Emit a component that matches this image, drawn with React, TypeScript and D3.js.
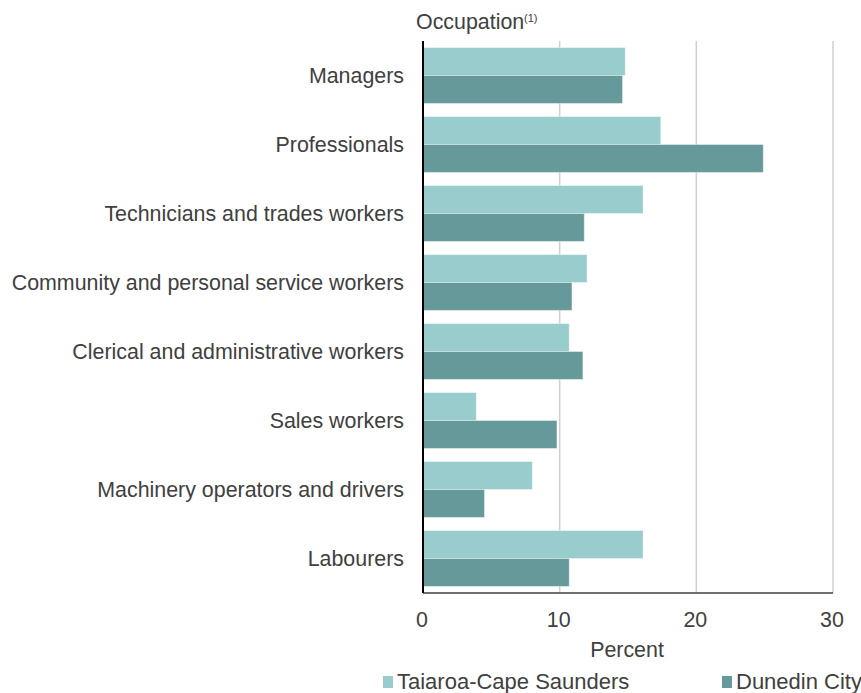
import React from "react";
import * as d3 from "d3";

const categories = [
  "Managers",
  "Professionals",
  "Technicians and trades workers",
  "Community and personal service workers",
  "Clerical and administrative workers",
  "Sales workers",
  "Machinery operators and drivers",
  "Labourers",
];
const seriesNames = ["Taiaroa-Cape Saunders", "Dunedin City"];
const taiaroa = [14.8, 17.4, 16.1, 12.0, 10.7, 3.9, 8.0, 16.1];
const dunedin = [14.6, 24.9, 11.8, 10.9, 11.7, 9.8, 4.5, 10.7];
const xTicks = [0, 10, 20, 30];
const colors = ["#99cccc", "#669999"];

const W = 861;
const H = 693;
const left = 423;
const right = 833;
const top = 41;
const bottom = 593;
const FONT = "'Liberation Sans', Arial, sans-serif";
const TXT = "#404040";

export default function App() {
  const x = d3.scaleLinear().domain([0, 30]).range([left, right]);
  const y = d3
    .scaleBand<string>()
    .domain(categories)
    .range([top, bottom])
    .paddingInner(0.19)
    .paddingOuter(0.095);
  const sub = d3
    .scaleBand<number>()
    .domain([0, 1])
    .range([0, y.bandwidth()]);
  const series = [taiaroa, dunedin];

  return (
    <svg
      width={W}
      height={H}
      style={{ position: "absolute", left: 0, top: 0, background: "#fff" }}
      fontFamily={FONT}
    >
      {xTicks.slice(1).map((t) => (
        <line key={t} x1={x(t)} x2={x(t)} y1={top} y2={bottom} stroke="#d0d0d0" strokeWidth={1.5} />
      ))}
      {categories.map((c, i) =>
        series.map((s, si) => (
          <rect
            key={c + si}
            x={x(0)}
            y={(y(c) as number) + (sub(si) as number)}
            width={x(s[i]) - x(0)}
            height={sub.bandwidth()}
            fill={colors[si]}
            stroke="#ffffff"
            strokeOpacity={0.4}
            strokeWidth={1}
          />
        ))
      )}
      <line x1={left} x2={right} y1={bottom} y2={bottom} stroke="#404040" strokeWidth={1.5} />
      <line x1={left} x2={left} y1={top} y2={bottom} stroke="#000" strokeWidth={2} />
      {categories.map((c) => (
        <text
          key={c}
          x={404}
          y={(y(c) as number) + y.bandwidth() / 2 + 7.5}
          textAnchor="end"
          fontSize={21.4}
          fill={TXT}
        >
          {c}
        </text>
      ))}
      {xTicks.map((t) => (
        <text key={t} x={x(t) - 1} y={627} textAnchor="middle" fontSize={21.4} fill={TXT}>
          {t}
        </text>
      ))}
      <text x={627} y={657} textAnchor="middle" fontSize={21.4} fill={TXT}>
        Percent
      </text>
      <text x={416} y={29} fontSize={21.4} fill={TXT}>
        Occupation
      </text>
      <text x={524} y={22} fontSize={11} fill={TXT}>
        (1)
      </text>
      {seriesNames.map((n, i) => {
        const lx = i === 0 ? 383 : 722;
        return (
          <g key={n}>
            <rect x={lx} y={676} width={10} height={12} fill={colors[i]} />
            <text x={lx + 14} y={689} fontSize={22} fill={TXT}>
              {n}
            </text>
          </g>
        );
      })}
    </svg>
  );
}
